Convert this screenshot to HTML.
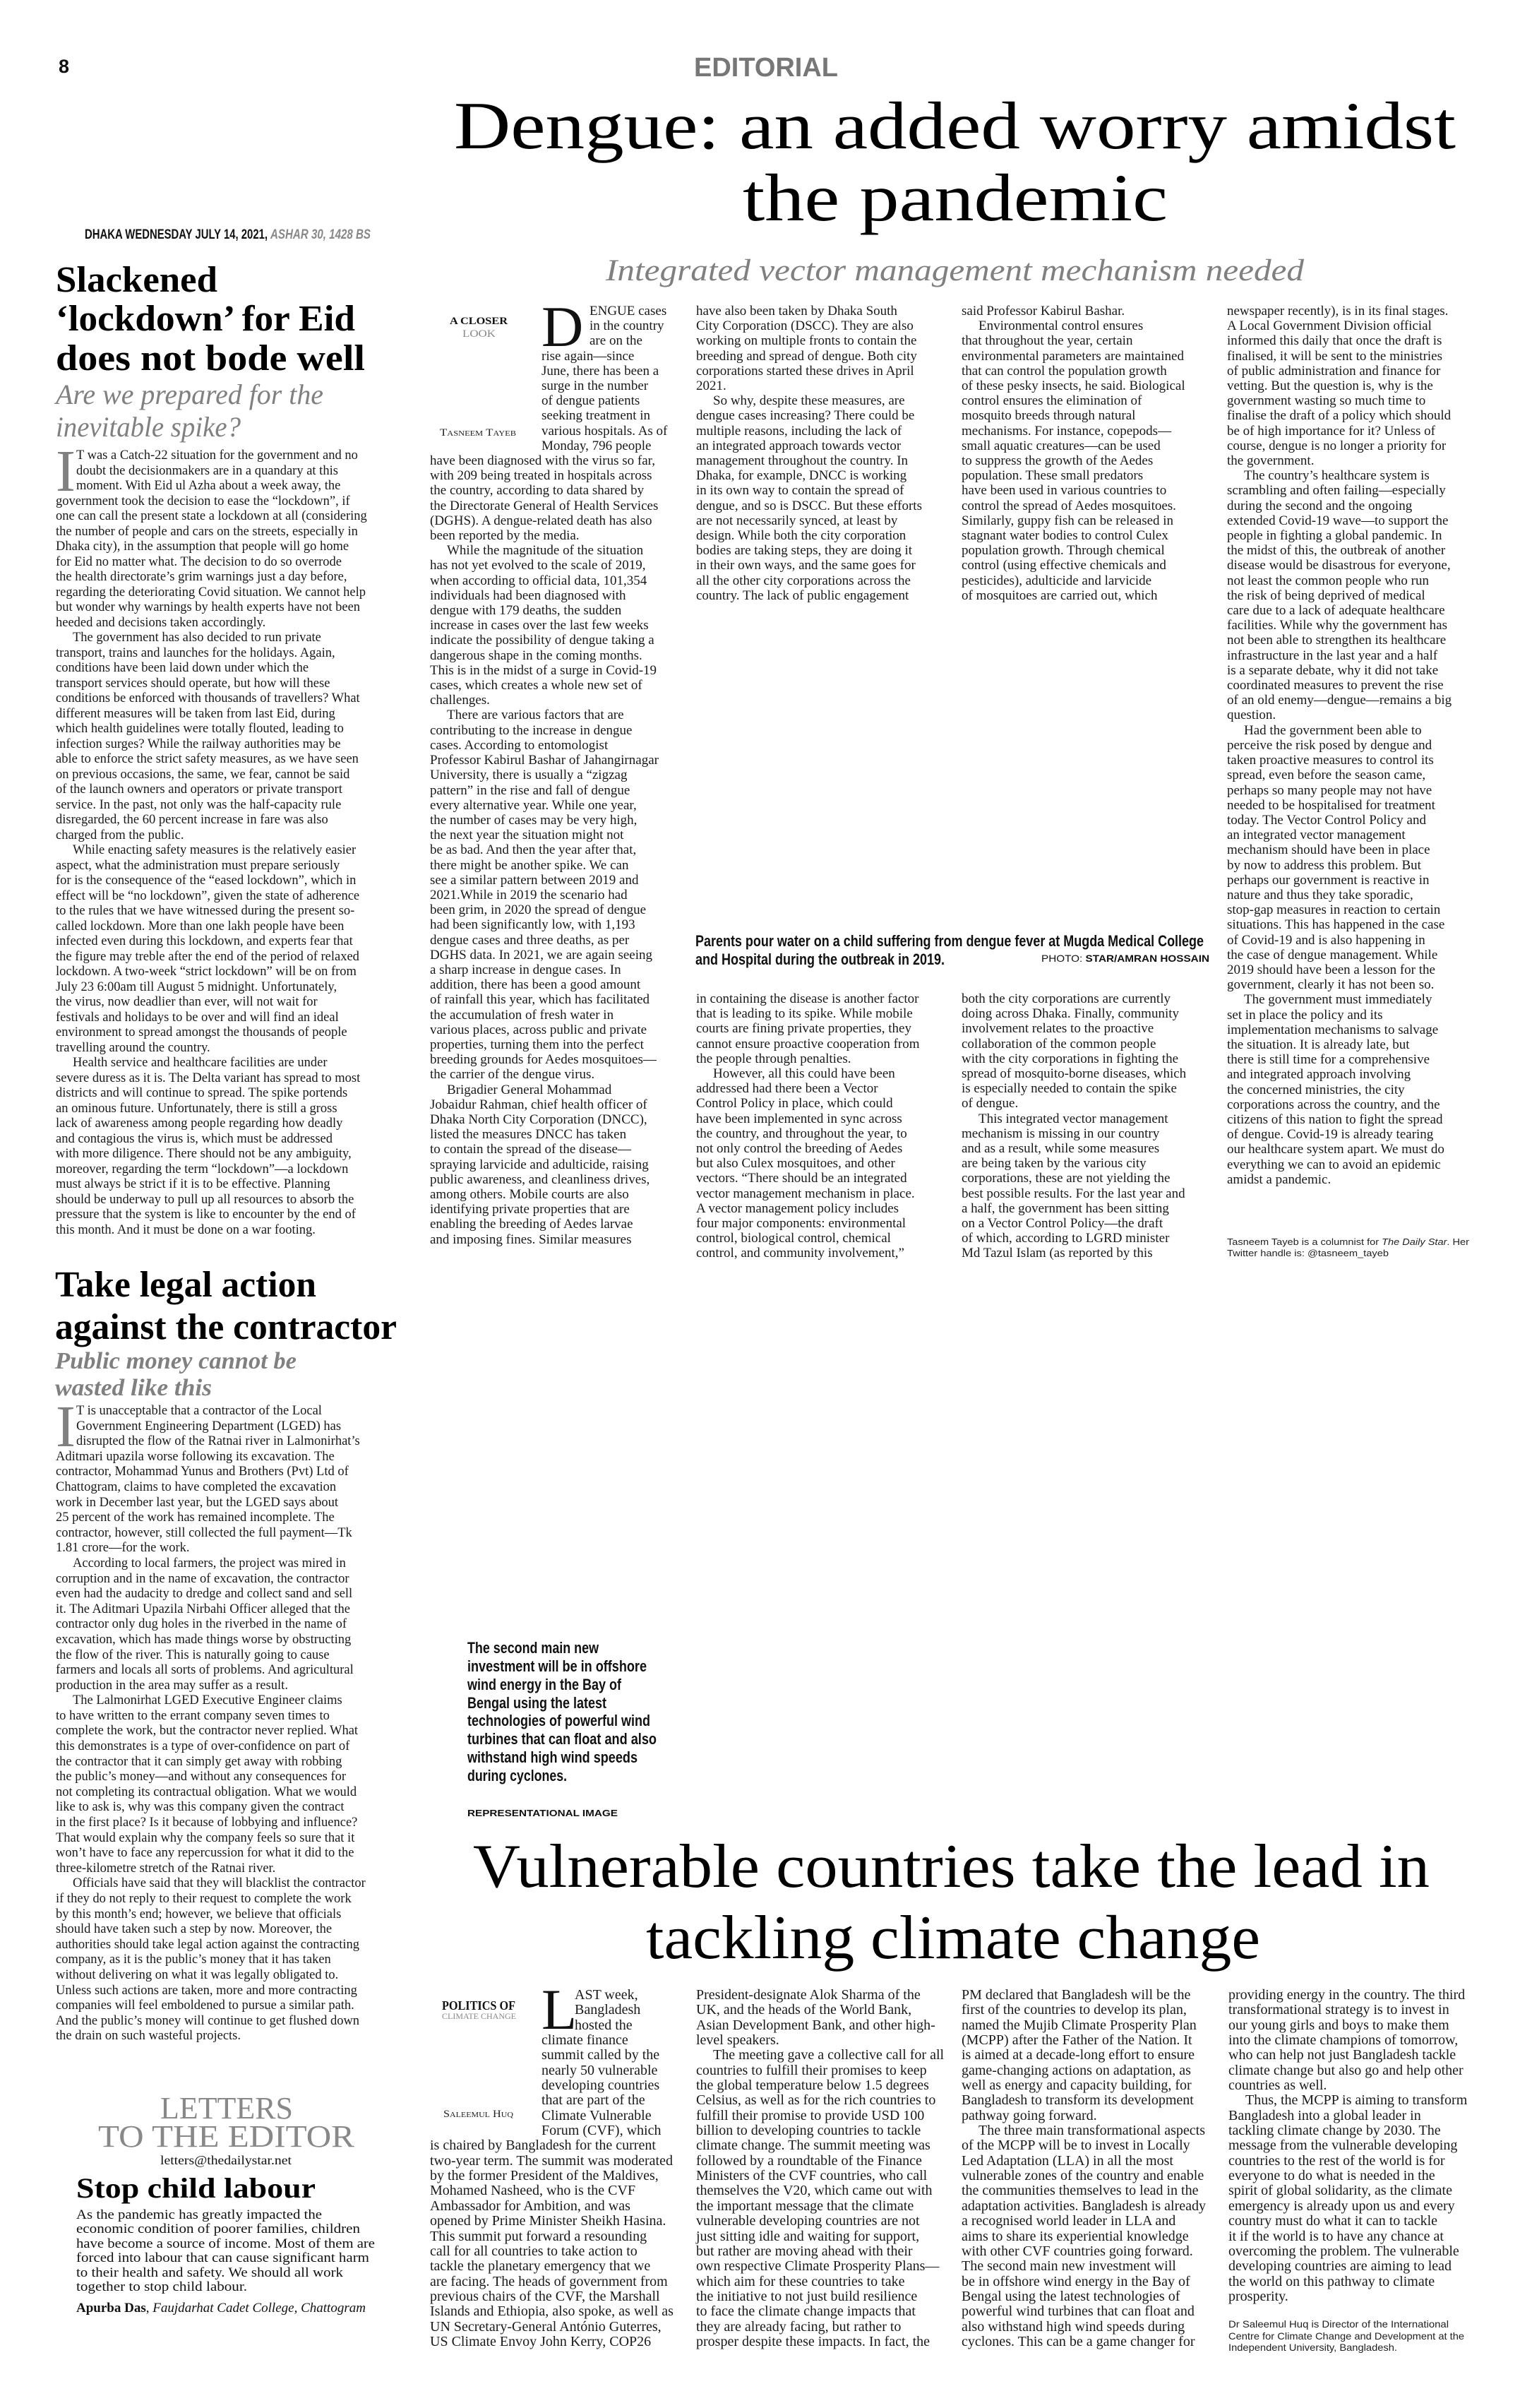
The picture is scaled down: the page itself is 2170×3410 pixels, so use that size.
<!DOCTYPE html>
<html><head><meta charset="utf-8">
<style>
html,body{margin:0;padding:0;background:#fff;}
#p{position:relative;width:2170px;height:3410px;overflow:hidden;background:#fff;}
.c{position:absolute;font-family:"Liberation Serif",serif;color:#1a1a1a;white-space:nowrap;}
.d{font-size:19px;line-height:21.2px;}
.l{font-size:18.5px;line-height:21.5px;}
.k{font-size:20px;line-height:21.35px;}
.i{padding-left:24px;}
svg{position:absolute;left:0;top:0;}
</style></head><body><div id="p">

<svg width="2170" height="3410" xmlns="http://www.w3.org/2000/svg">
<g font-family="Liberation Sans, sans-serif">
<text x="83" y="103" font-size="27" font-weight="bold" fill="#111">8</text>
<text x="983" y="108" font-size="38" font-weight="bold" fill="#777" textLength="204" lengthAdjust="spacingAndGlyphs">EDITORIAL</text>
<text x="120" y="338" font-size="19" font-weight="bold" fill="#111" textLength="259" lengthAdjust="spacingAndGlyphs">DHAKA WEDNESDAY JULY 14, 2021,</text>
<text x="383" y="338" font-size="19" font-weight="bold" font-style="italic" fill="#888" textLength="142" lengthAdjust="spacingAndGlyphs">ASHAR 30, 1428 BS</text>
<text x="985" y="1340" font-size="22" font-weight="bold" fill="#111" textLength="720" lengthAdjust="spacingAndGlyphs">Parents pour water on a child suffering from dengue fever at Mugda Medical College</text>
<text x="985" y="1366" font-size="22" font-weight="bold" fill="#111" textLength="353" lengthAdjust="spacingAndGlyphs">and Hospital during the outbreak in 2019.</text>
<text x="1475" y="1362" font-size="14" fill="#111" textLength="238" lengthAdjust="spacingAndGlyphs">PHOTO: <tspan font-weight="bold">STAR/AMRAN HOSSAIN</tspan></text>
<g font-size="22" font-weight="bold" fill="#111">
<text x="662" y="2341" textLength="186" lengthAdjust="spacingAndGlyphs">The second main new</text>
<text x="662" y="2367" textLength="254" lengthAdjust="spacingAndGlyphs">investment will be in offshore</text>
<text x="662" y="2393" textLength="218" lengthAdjust="spacingAndGlyphs">wind energy in the Bay of</text>
<text x="662" y="2419" textLength="197" lengthAdjust="spacingAndGlyphs">Bengal using the latest</text>
<text x="662" y="2444" textLength="259" lengthAdjust="spacingAndGlyphs">technologies of powerful wind</text>
<text x="662" y="2470" textLength="268" lengthAdjust="spacingAndGlyphs">turbines that can float and also</text>
<text x="662" y="2496" textLength="241" lengthAdjust="spacingAndGlyphs">withstand high wind speeds</text>
<text x="662" y="2522" textLength="141" lengthAdjust="spacingAndGlyphs">during cyclones.</text>
</g>
<text x="662" y="2572" font-size="13" font-weight="bold" fill="#111" textLength="213" lengthAdjust="spacingAndGlyphs">REPRESENTATIONAL IMAGE</text>
<text x="1738" y="1763" font-size="13" fill="#222" textLength="343" lengthAdjust="spacingAndGlyphs">Tasneem Tayeb is a columnist for <tspan font-style="italic">The Daily Star</tspan>. Her</text>
<text x="1738" y="1779" font-size="13" fill="#222" textLength="229" lengthAdjust="spacingAndGlyphs">Twitter handle is: @tasneem_tayeb</text>
<text x="1740" y="3296" font-size="14" fill="#222" textLength="312" lengthAdjust="spacingAndGlyphs">Dr Saleemul Huq is Director of the International</text>
<text x="1740" y="3313" font-size="14" fill="#222" textLength="334" lengthAdjust="spacingAndGlyphs">Centre for Climate Change and Development at the</text>
<text x="1740" y="3329" font-size="14" fill="#222" textLength="239" lengthAdjust="spacingAndGlyphs">Independent University, Bangladesh.</text>
</g>
<g font-family="Liberation Serif, serif">
<text x="643" y="210" font-size="95" fill="#000" textLength="1419" lengthAdjust="spacingAndGlyphs">Dengue: an added worry amidst</text>
<text x="1052" y="312" font-size="95" fill="#000" textLength="602" lengthAdjust="spacingAndGlyphs">the pandemic</text>
<text x="858" y="397" font-size="43" font-style="italic" fill="#808080" textLength="989" lengthAdjust="spacingAndGlyphs">Integrated vector management mechanism needed</text>
<g font-size="52" font-weight="bold" fill="#000">
<text x="79" y="413" textLength="229" lengthAdjust="spacingAndGlyphs">Slackened</text>
<text x="79" y="468" textLength="424" lengthAdjust="spacingAndGlyphs">‘lockdown’ for Eid</text>
<text x="79" y="524" textLength="438" lengthAdjust="spacingAndGlyphs">does not bode well</text>
<text x="78" y="1836" textLength="370" lengthAdjust="spacingAndGlyphs">Take legal action</text>
<text x="78" y="1896" textLength="484" lengthAdjust="spacingAndGlyphs">against the contractor</text>
</g>
<g font-style="italic" fill="#808080">
<text x="79" y="572" font-size="40" textLength="379" lengthAdjust="spacingAndGlyphs">Are we prepared for the</text>
<text x="79" y="618" font-size="40" textLength="262" lengthAdjust="spacingAndGlyphs">inevitable spike?</text>
<text x="78" y="1938" font-size="34" font-weight="bold" textLength="342" lengthAdjust="spacingAndGlyphs">Public money cannot be</text>
<text x="78" y="1976" font-size="34" font-weight="bold" textLength="222" lengthAdjust="spacingAndGlyphs">wasted like this</text>
</g>
<text x="670" y="2672" font-size="88" fill="#000" textLength="1355" lengthAdjust="spacingAndGlyphs">Vulnerable countries take the lead in</text>
<text x="915" y="2773" font-size="88" fill="#000" textLength="870" lengthAdjust="spacingAndGlyphs">tackling climate change</text>
<text x="637" y="459" font-size="15" font-weight="bold" fill="#111" textLength="82" lengthAdjust="spacingAndGlyphs">A CLOSER</text>
<text x="655" y="477" font-size="15" fill="#888" textLength="47" lengthAdjust="spacingAndGlyphs">LOOK</text>
<text x="623" y="617" font-size="15" fill="#222" textLength="108" lengthAdjust="spacingAndGlyphs">T<tspan font-size="11">ASNEEM</tspan> T<tspan font-size="11">AYEB</tspan></text>
<text x="626" y="2846" font-size="18" font-weight="bold" fill="#111" textLength="104" lengthAdjust="spacingAndGlyphs">POLITICS OF</text>
<text x="626" y="2859" font-size="12" fill="#888" textLength="105" lengthAdjust="spacingAndGlyphs">CLIMATE CHANGE</text>
<text x="628" y="2998" font-size="15" fill="#222" textLength="99" lengthAdjust="spacingAndGlyphs">S<tspan font-size="11">ALEEMUL</tspan> H<tspan font-size="11">UQ</tspan></text>
<text x="767" y="490" font-size="82" fill="#111">D</text>
<text x="767" y="2873" font-size="82" fill="#111">L</text>
<text x="79" y="695" font-size="84" fill="#808080">I</text>
<text x="79" y="2048" font-size="84" fill="#808080">I</text>
<text x="227" y="3000" font-size="44" fill="#888" textLength="188" lengthAdjust="spacingAndGlyphs">LETTERS</text>
<text x="139" y="3040" font-size="44" fill="#888" textLength="363" lengthAdjust="spacingAndGlyphs">TO THE EDITOR</text>
<text x="227" y="3065" font-size="18" fill="#111" textLength="186" lengthAdjust="spacingAndGlyphs">letters@thedailystar.net</text>
<text x="108" y="3112" font-size="40" font-weight="bold" fill="#000" textLength="339" lengthAdjust="spacingAndGlyphs">Stop child labour</text>
<g font-size="19" fill="#111">
<text x="108" y="3142" textLength="348" lengthAdjust="spacingAndGlyphs">As the pandemic has greatly impacted the</text>
<text x="108" y="3162" textLength="402" lengthAdjust="spacingAndGlyphs">economic condition of poorer families, children</text>
<text x="108" y="3183" textLength="423" lengthAdjust="spacingAndGlyphs">have become a source of income. Most of them are</text>
<text x="108" y="3203" textLength="415" lengthAdjust="spacingAndGlyphs">forced into labour that can cause significant harm</text>
<text x="108" y="3224" textLength="378" lengthAdjust="spacingAndGlyphs">to their health and safety. We should all work</text>
<text x="108" y="3244" textLength="242" lengthAdjust="spacingAndGlyphs">together to stop child labour.</text>
<text x="108" y="3274" textLength="410" lengthAdjust="spacingAndGlyphs"><tspan font-weight="bold">Apurba Das</tspan>, <tspan font-style="italic">Faujdarhat Cadet College, Chattogram</tspan></text>
</g>
</g>
</svg>

<!-- Slackened body -->
<div class="c l" style="left:79px;top:635px;">
<div style="padding-left:29px">T was a Catch-22 situation for the government and no</div>
<div style="padding-left:29px">doubt the decisionmakers are in a quandary at this</div>
<div style="padding-left:29px">moment. With Eid ul Azha about a week away, the</div>
<div>government took the decision to ease the “lockdown”, if</div>
<div>one can call the present state a lockdown at all (considering</div>
<div>the number of people and cars on the streets, especially in</div>
<div>Dhaka city), in the assumption that people will go home</div>
<div>for Eid no matter what. The decision to do so overrode</div>
<div>the health directorate’s grim warnings just a day before,</div>
<div>regarding the deteriorating Covid situation. We cannot help</div>
<div>but wonder why warnings by health experts have not been</div>
<div>heeded and decisions taken accordingly.</div>
<div class="i">The government has also decided to run private</div>
<div>transport, trains and launches for the holidays. Again,</div>
<div>conditions have been laid down under which the</div>
<div>transport services should operate, but how will these</div>
<div>conditions be enforced with thousands of travellers? What</div>
<div>different measures will be taken from last Eid, during</div>
<div>which health guidelines were totally flouted, leading to</div>
<div>infection surges? While the railway authorities may be</div>
<div>able to enforce the strict safety measures, as we have seen</div>
<div>on previous occasions, the same, we fear, cannot be said</div>
<div>of the launch owners and operators or private transport</div>
<div>service. In the past, not only was the half-capacity rule</div>
<div>disregarded, the 60 percent increase in fare was also</div>
<div>charged from the public.</div>
<div class="i">While enacting safety measures is the relatively easier</div>
<div>aspect, what the administration must prepare seriously</div>
<div>for is the consequence of the “eased lockdown”, which in</div>
<div>effect will be “no lockdown”, given the state of adherence</div>
<div>to the rules that we have witnessed during the present so-</div>
<div>called lockdown. More than one lakh people have been</div>
<div>infected even during this lockdown, and experts fear that</div>
<div>the figure may treble after the end of the period of relaxed</div>
<div>lockdown. A two-week “strict lockdown” will be on from</div>
<div>July 23 6:00am till August 5 midnight. Unfortunately,</div>
<div>the virus, now deadlier than ever, will not wait for</div>
<div>festivals and holidays to be over and will find an ideal</div>
<div>environment to spread amongst the thousands of people</div>
<div>travelling around the country.</div>
<div class="i">Health service and healthcare facilities are under</div>
<div>severe duress as it is. The Delta variant has spread to most</div>
<div>districts and will continue to spread. The spike portends</div>
<div>an ominous future. Unfortunately, there is still a gross</div>
<div>lack of awareness among people regarding how deadly</div>
<div>and contagious the virus is, which must be addressed</div>
<div>with more diligence. There should not be any ambiguity,</div>
<div>moreover, regarding the term “lockdown”—a lockdown</div>
<div>must always be strict if it is to be effective. Planning</div>
<div>should be underway to pull up all resources to absorb the</div>
<div>pressure that the system is like to encounter by the end of</div>
<div>this month. And it must be done on a war footing.</div>
</div>

<!-- Take legal body -->
<div class="c l" style="left:79px;top:1988px;line-height:21.6px;">
<div style="padding-left:29px">T is unacceptable that a contractor of the Local</div>
<div style="padding-left:29px">Government Engineering Department (LGED) has</div>
<div style="padding-left:29px">disrupted the flow of the Ratnai river in Lalmonirhat’s</div>
<div>Aditmari upazila worse following its excavation. The</div>
<div>contractor, Mohammad Yunus and Brothers (Pvt) Ltd of</div>
<div>Chattogram, claims to have completed the excavation</div>
<div>work in December last year, but the LGED says about</div>
<div>25 percent of the work has remained incomplete. The</div>
<div>contractor, however, still collected the full payment—Tk</div>
<div>1.81 crore—for the work.</div>
<div class="i">According to local farmers, the project was mired in</div>
<div>corruption and in the name of excavation, the contractor</div>
<div>even had the audacity to dredge and collect sand and sell</div>
<div>it. The Aditmari Upazila Nirbahi Officer alleged that the</div>
<div>contractor only dug holes in the riverbed in the name of</div>
<div>excavation, which has made things worse by obstructing</div>
<div>the flow of the river. This is naturally going to cause</div>
<div>farmers and locals all sorts of problems. And agricultural</div>
<div>production in the area may suffer as a result.</div>
<div class="i">The Lalmonirhat LGED Executive Engineer claims</div>
<div>to have written to the errant company seven times to</div>
<div>complete the work, but the contractor never replied. What</div>
<div>this demonstrates is a type of over-confidence on part of</div>
<div>the contractor that it can simply get away with robbing</div>
<div>the public’s money—and without any consequences for</div>
<div>not completing its contractual obligation. What we would</div>
<div>like to ask is, why was this company given the contract</div>
<div>in the first place? Is it because of lobbying and influence?</div>
<div>That would explain why the company feels so sure that it</div>
<div>won’t have to face any repercussion for what it did to the</div>
<div>three-kilometre stretch of the Ratnai river.</div>
<div class="i">Officials have said that they will blacklist the contractor</div>
<div>if they do not reply to their request to complete the work</div>
<div>by this month’s end; however, we believe that officials</div>
<div>should have taken such a step by now. Moreover, the</div>
<div>authorities should take legal action against the contracting</div>
<div>company, as it is the public’s money that it has taken</div>
<div>without delivering on what it was legally obligated to.</div>
<div>Unless such actions are taken, more and more contracting</div>
<div>companies will feel emboldened to pursue a similar path.</div>
<div>And the public’s money will continue to get flushed down</div>
<div>the drain on such wasteful projects.</div>
</div>

<!-- Dengue col1 -->
<div class="c d" style="left:609px;top:430px;">
<div style="padding-left:226px">ENGUE cases</div>
<div style="padding-left:226px">in the country</div>
<div style="padding-left:226px">are on the</div>
<div style="padding-left:158px">rise again—since</div>
<div style="padding-left:158px">June, there has been a</div>
<div style="padding-left:158px">surge in the number</div>
<div style="padding-left:158px">of dengue patients</div>
<div style="padding-left:158px">seeking treatment in</div>
<div style="padding-left:158px">various hospitals. As of</div>
<div style="padding-left:158px">Monday, 796 people</div>
<div>have been diagnosed with the virus so far,</div>
<div>with 209 being treated in hospitals across</div>
<div>the country, according to data shared by</div>
<div>the Directorate General of Health Services</div>
<div>(DGHS). A dengue-related death has also</div>
<div>been reported by the media.</div>
<div class="i">While the magnitude of the situation</div>
<div>has not yet evolved to the scale of 2019,</div>
<div>when according to official data, 101,354</div>
<div>individuals had been diagnosed with</div>
<div>dengue with 179 deaths, the sudden</div>
<div>increase in cases over the last few weeks</div>
<div>indicate the possibility of dengue taking a</div>
<div>dangerous shape in the coming months.</div>
<div>This is in the midst of a surge in Covid-19</div>
<div>cases, which creates a whole new set of</div>
<div>challenges.</div>
<div class="i">There are various factors that are</div>
<div>contributing to the increase in dengue</div>
<div>cases. According to entomologist</div>
<div>Professor Kabirul Bashar of Jahangirnagar</div>
<div>University, there is usually a “zigzag</div>
<div>pattern” in the rise and fall of dengue</div>
<div>every alternative year. While one year,</div>
<div>the number of cases may be very high,</div>
<div>the next year the situation might not</div>
<div>be as bad. And then the year after that,</div>
<div>there might be another spike. We can</div>
<div>see a similar pattern between 2019 and</div>
<div>2021.While in 2019 the scenario had</div>
<div>been grim, in 2020 the spread of dengue</div>
<div>had been significantly low, with 1,193</div>
<div>dengue cases and three deaths, as per</div>
<div>DGHS data. In 2021, we are again seeing</div>
<div>a sharp increase in dengue cases. In</div>
<div>addition, there has been a good amount</div>
<div>of rainfall this year, which has facilitated</div>
<div>the accumulation of fresh water in</div>
<div>various places, across public and private</div>
<div>properties, turning them into the perfect</div>
<div>breeding grounds for Aedes mosquitoes—</div>
<div>the carrier of the dengue virus.</div>
<div class="i">Brigadier General Mohammad</div>
<div>Jobaidur Rahman, chief health officer of</div>
<div>Dhaka North City Corporation (DNCC),</div>
<div>listed the measures DNCC has taken</div>
<div>to contain the spread of the disease—</div>
<div>spraying larvicide and adulticide, raising</div>
<div>public awareness, and cleanliness drives,</div>
<div>among others. Mobile courts are also</div>
<div>identifying private properties that are</div>
<div>enabling the breeding of Aedes larvae</div>
<div>and imposing fines. Similar measures</div>
</div>

<!-- Dengue col2 top -->
<div class="c d" style="left:986px;top:430px;">
<div>have also been taken by Dhaka South</div>
<div>City Corporation (DSCC). They are also</div>
<div>working on multiple fronts to contain the</div>
<div>breeding and spread of dengue. Both city</div>
<div>corporations started these drives in April</div>
<div>2021.</div>
<div class="i">So why, despite these measures, are</div>
<div>dengue cases increasing? There could be</div>
<div>multiple reasons, including the lack of</div>
<div>an integrated approach towards vector</div>
<div>management throughout the country. In</div>
<div>Dhaka, for example, DNCC is working</div>
<div>in its own way to contain the spread of</div>
<div>dengue, and so is DSCC. But these efforts</div>
<div>are not necessarily synced, at least by</div>
<div>design. While both the city corporation</div>
<div>bodies are taking steps, they are doing it</div>
<div>in their own ways, and the same goes for</div>
<div>all the other city corporations across the</div>
<div>country. The lack of public engagement</div>
</div>
<div class="c d" style="left:986px;top:1404px;">
<div>in containing the disease is another factor</div>
<div>that is leading to its spike. While mobile</div>
<div>courts are fining private properties, they</div>
<div>cannot ensure proactive cooperation from</div>
<div>the people through penalties.</div>
<div class="i">However, all this could have been</div>
<div>addressed had there been a Vector</div>
<div>Control Policy in place, which could</div>
<div>have been implemented in sync across</div>
<div>the country, and throughout the year, to</div>
<div>not only control the breeding of Aedes</div>
<div>but also Culex mosquitoes, and other</div>
<div>vectors. “There should be an integrated</div>
<div>vector management mechanism in place.</div>
<div>A vector management policy includes</div>
<div>four major components: environmental</div>
<div>control, biological control, chemical</div>
<div>control, and community involvement,”</div>
</div>

<!-- Dengue col3 -->
<div class="c d" style="left:1362px;top:430px;">
<div>said Professor Kabirul Bashar.</div>
<div class="i">Environmental control ensures</div>
<div>that throughout the year, certain</div>
<div>environmental parameters are maintained</div>
<div>that can control the population growth</div>
<div>of these pesky insects, he said. Biological</div>
<div>control ensures the elimination of</div>
<div>mosquito breeds through natural</div>
<div>mechanisms. For instance, copepods—</div>
<div>small aquatic creatures—can be used</div>
<div>to suppress the growth of the Aedes</div>
<div>population. These small predators</div>
<div>have been used in various countries to</div>
<div>control the spread of Aedes mosquitoes.</div>
<div>Similarly, guppy fish can be released in</div>
<div>stagnant water bodies to control Culex</div>
<div>population growth. Through chemical</div>
<div>control (using effective chemicals and</div>
<div>pesticides), adulticide and larvicide</div>
<div>of mosquitoes are carried out, which</div>
</div>
<div class="c d" style="left:1362px;top:1404px;">
<div>both the city corporations are currently</div>
<div>doing across Dhaka. Finally, community</div>
<div>involvement relates to the proactive</div>
<div>collaboration of the common people</div>
<div>with the city corporations in fighting the</div>
<div>spread of mosquito-borne diseases, which</div>
<div>is especially needed to contain the spike</div>
<div>of dengue.</div>
<div class="i">This integrated vector management</div>
<div>mechanism is missing in our country</div>
<div>and as a result, while some measures</div>
<div>are being taken by the various city</div>
<div>corporations, these are not yielding the</div>
<div>best possible results. For the last year and</div>
<div>a half, the government has been sitting</div>
<div>on a Vector Control Policy—the draft</div>
<div>of which, according to LGRD minister</div>
<div>Md Tazul Islam (as reported by this</div>
</div>

<!-- Dengue col4 -->
<div class="c d" style="left:1738px;top:430px;">
<div>newspaper recently), is in its final stages.</div>
<div>A Local Government Division official</div>
<div>informed this daily that once the draft is</div>
<div>finalised, it will be sent to the ministries</div>
<div>of public administration and finance for</div>
<div>vetting. But the question is, why is the</div>
<div>government wasting so much time to</div>
<div>finalise the draft of a policy which should</div>
<div>be of high importance for it? Unless of</div>
<div>course, dengue is no longer a priority for</div>
<div>the government.</div>
<div class="i">The country’s healthcare system is</div>
<div>scrambling and often failing—especially</div>
<div>during the second and the ongoing</div>
<div>extended Covid-19 wave—to support the</div>
<div>people in fighting a global pandemic. In</div>
<div>the midst of this, the outbreak of another</div>
<div>disease would be disastrous for everyone,</div>
<div>not least the common people who run</div>
<div>the risk of being deprived of medical</div>
<div>care due to a lack of adequate healthcare</div>
<div>facilities. While why the government has</div>
<div>not been able to strengthen its healthcare</div>
<div>infrastructure in the last year and a half</div>
<div>is a separate debate, why it did not take</div>
<div>coordinated measures to prevent the rise</div>
<div>of an old enemy—dengue—remains a big</div>
<div>question.</div>
<div class="i">Had the government been able to</div>
<div>perceive the risk posed by dengue and</div>
<div>taken proactive measures to control its</div>
<div>spread, even before the season came,</div>
<div>perhaps so many people may not have</div>
<div>needed to be hospitalised for treatment</div>
<div>today. The Vector Control Policy and</div>
<div>an integrated vector management</div>
<div>mechanism should have been in place</div>
<div>by now to address this problem. But</div>
<div>perhaps our government is reactive in</div>
<div>nature and thus they take sporadic,</div>
<div>stop-gap measures in reaction to certain</div>
<div>situations. This has happened in the case</div>
<div>of Covid-19 and is also happening in</div>
<div>the case of dengue management. While</div>
<div>2019 should have been a lesson for the</div>
<div>government, clearly it has not been so.</div>
<div class="i">The government must immediately</div>
<div>set in place the policy and its</div>
<div>implementation mechanisms to salvage</div>
<div>the situation. It is already late, but</div>
<div>there is still time for a comprehensive</div>
<div>and integrated approach involving</div>
<div>the concerned ministries, the city</div>
<div>corporations across the country, and the</div>
<div>citizens of this nation to fight the spread</div>
<div>of dengue. Covid-19 is already tearing</div>
<div>our healthcare system apart. We must do</div>
<div>everything we can to avoid an epidemic</div>
<div>amidst a pandemic.</div>
</div>

<!-- Climate col1 -->
<div class="c k" style="left:609px;top:2815px;">
<div style="padding-left:205px">AST week,</div>
<div style="padding-left:205px">Bangladesh</div>
<div style="padding-left:205px">hosted the</div>
<div style="padding-left:158px">climate finance</div>
<div style="padding-left:158px">summit called by the</div>
<div style="padding-left:158px">nearly 50 vulnerable</div>
<div style="padding-left:158px">developing countries</div>
<div style="padding-left:158px">that are part of the</div>
<div style="padding-left:158px">Climate Vulnerable</div>
<div style="padding-left:158px">Forum (CVF), which</div>
<div>is chaired by Bangladesh for the current</div>
<div>two-year term. The summit was moderated</div>
<div>by the former President of the Maldives,</div>
<div>Mohamed Nasheed, who is the CVF</div>
<div>Ambassador for Ambition, and was</div>
<div>opened by Prime Minister Sheikh Hasina.</div>
<div>This summit put forward a resounding</div>
<div>call for all countries to take action to</div>
<div>tackle the planetary emergency that we</div>
<div>are facing. The heads of government from</div>
<div>previous chairs of the CVF, the Marshall</div>
<div>Islands and Ethiopia, also spoke, as well as</div>
<div>UN Secretary-General António Guterres,</div>
<div>US Climate Envoy John Kerry, COP26</div>
</div>
<div class="c k" style="left:986px;top:2815px;">
<div>President-designate Alok Sharma of the</div>
<div>UK, and the heads of the World Bank,</div>
<div>Asian Development Bank, and other high-</div>
<div>level speakers.</div>
<div class="i">The meeting gave a collective call for all</div>
<div>countries to fulfill their promises to keep</div>
<div>the global temperature below 1.5 degrees</div>
<div>Celsius, as well as for the rich countries to</div>
<div>fulfill their promise to provide USD 100</div>
<div>billion to developing countries to tackle</div>
<div>climate change. The summit meeting was</div>
<div>followed by a roundtable of the Finance</div>
<div>Ministers of the CVF countries, who call</div>
<div>themselves the V20, which came out with</div>
<div>the important message that the climate</div>
<div>vulnerable developing countries are not</div>
<div>just sitting idle and waiting for support,</div>
<div>but rather are moving ahead with their</div>
<div>own respective Climate Prosperity Plans—</div>
<div>which aim for these countries to take</div>
<div>the initiative to not just build resilience</div>
<div>to face the climate change impacts that</div>
<div>they are already facing, but rather to</div>
<div>prosper despite these impacts. In fact, the</div>
</div>
<div class="c k" style="left:1362px;top:2815px;">
<div>PM declared that Bangladesh will be the</div>
<div>first of the countries to develop its plan,</div>
<div>named the Mujib Climate Prosperity Plan</div>
<div>(MCPP) after the Father of the Nation. It</div>
<div>is aimed at a decade-long effort to ensure</div>
<div>game-changing actions on adaptation, as</div>
<div>well as energy and capacity building, for</div>
<div>Bangladesh to transform its development</div>
<div>pathway going forward.</div>
<div class="i">The three main transformational aspects</div>
<div>of the MCPP will be to invest in Locally</div>
<div>Led Adaptation (LLA) in all the most</div>
<div>vulnerable zones of the country and enable</div>
<div>the communities themselves to lead in the</div>
<div>adaptation activities. Bangladesh is already</div>
<div>a recognised world leader in LLA and</div>
<div>aims to share its experiential knowledge</div>
<div>with other CVF countries going forward.</div>
<div>The second main new investment will</div>
<div>be in offshore wind energy in the Bay of</div>
<div>Bengal using the latest technologies of</div>
<div>powerful wind turbines that can float and</div>
<div>also withstand high wind speeds during</div>
<div>cyclones. This can be a game changer for</div>
</div>
<div class="c k" style="left:1740px;top:2815px;">
<div>providing energy in the country. The third</div>
<div>transformational strategy is to invest in</div>
<div>our young girls and boys to make them</div>
<div>into the climate champions of tomorrow,</div>
<div>who can help not just Bangladesh tackle</div>
<div>climate change but also go and help other</div>
<div>countries as well.</div>
<div class="i">Thus, the MCPP is aiming to transform</div>
<div>Bangladesh into a global leader in</div>
<div>tackling climate change by 2030. The</div>
<div>message from the vulnerable developing</div>
<div>countries to the rest of the world is for</div>
<div>everyone to do what is needed in the</div>
<div>spirit of global solidarity, as the climate</div>
<div>emergency is already upon us and every</div>
<div>country must do what it can to tackle</div>
<div>it if the world is to have any chance at</div>
<div>overcoming the problem. The vulnerable</div>
<div>developing countries are aiming to lead</div>
<div>the world on this pathway to climate</div>
<div>prosperity.</div>
</div>

</div></body></html>
